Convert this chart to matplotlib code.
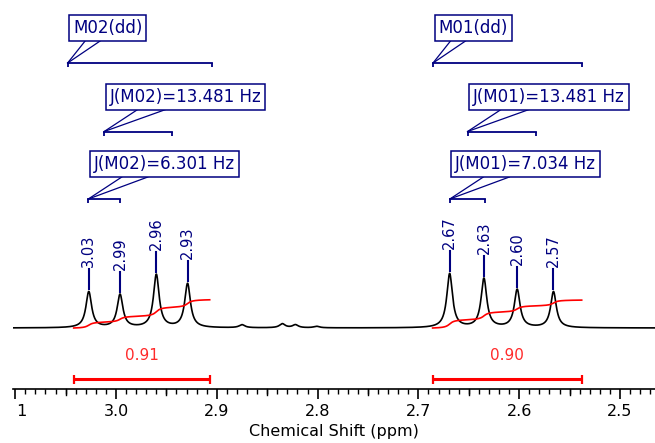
import numpy as np
import matplotlib
matplotlib.use('Agg')
import matplotlib.pyplot as plt
import matplotlib.transforms as mtransforms

# ---------------- data ----------------
peak_ppm_m02 = [3.027, 2.996, 2.960, 2.929]
peak_int_m02 = [36, 33, 53, 44]
peak_lbl_m02 = ['3.03', '2.99', '2.96', '2.93']

peak_ppm_m01 = [2.669, 2.635, 2.602, 2.566]
peak_int_m01 = [54, 49, 38, 36]
peak_lbl_m01 = ['2.67', '2.63', '2.60', '2.57']

minor_ppm = [2.875, 2.835, 2.822, 2.801]
minor_int = [3, 4, 3, 1.5]
line_fwhm_ppm = 0.0068

multiplet_names = ['M02(dd)', 'M01(dd)']
multiplet_range = [(3.048, 2.905), (2.6855, 2.538)]
multiplet_center = [2.978, 2.6175]
multiplet_J = [(13.481, 6.301), (13.481, 7.034)]
spec_freq_mhz = 200.0

integral_range = [(3.042, 2.907), (2.686, 2.538)]
integral_value = [0.91, 0.90]
integral_labels = ['0.91', '0.90']

x_ticks = [3.1, 3.0, 2.9, 2.8, 2.7, 2.6, 2.5]
x_ticklabels = ['3.1', '3.0', '2.9', '2.8', '2.7', '2.6', '2.5']
x_label = 'Chemical Shift (ppm)'

# ---------------- layout ----------------
W, H = 655, 443
ax_left_px, axis_y_px, base_px = 13, 389, 328
px_per_ppm = 1008.0
xmax = 3.0 + (116 - ax_left_px) / px_per_ppm
xmin = 3.0 - (W - 116) / px_per_ppm

NAVY = '#000080'
RED = '#ff0000'

fig = plt.figure(figsize=(W / 100, H / 100), dpi=100)
ax = fig.add_axes([ax_left_px / W, (H - axis_y_px) / H, (W - ax_left_px) / W, axis_y_px / H])
ax.set_xlim(xmax, xmin)
ax.set_ylim(-(axis_y_px - base_px), base_px)

# spectrum
x = np.linspace(xmax, xmin, 6000)
y = np.zeros_like(x)
hw = line_fwhm_ppm / 2
for p, h in zip(peak_ppm_m02 + peak_ppm_m01 + minor_ppm, peak_int_m02 + peak_int_m01 + minor_int):
    y += h / (1 + ((x - p) / hw) ** 2)
ax.plot(x, y, color='black', lw=1.2, zorder=3)

# integral curves + bars
for (a, b), val, lab in zip(integral_range, integral_value, integral_labels):
    m = (x <= a) & (x >= b)
    xi, yi = x[m], y[m]
    cum = np.concatenate([[0], np.cumsum((yi[1:] + yi[:-1]) / 2)])
    cum = cum / cum[-1] * val * 31
    ax.plot(xi, cum, color=RED, lw=1.2, zorder=4)
    ax.plot([a, b], [-51, -51], color=RED, lw=2.2, solid_capstyle='butt')
    ax.vlines([a, b], -55.5, -46.5, color=RED, lw=1.6)
    ax.text((a + b) / 2, -27, lab, color='#ff2a2a', ha='center', va='center', fontsize=11)

# peak labels
def spec_at(p):
    return np.interp(p, x[::-1], y[::-1])

for ppms, lbls in [(peak_ppm_m02, peak_lbl_m02), (peak_ppm_m01, peak_lbl_m01)]:
    for p, lb in zip(ppms, lbls):
        top = spec_at(p)
        ax.plot([p, p], [top + 2, top + 22], color=NAVY, lw=1.5)
        ax.text(p, top + 24, lb, rotation=90, ha='center', va='bottom', color=NAVY, fontsize=10.5)

# multiplet annotations
levels = [265, 196.5, 129]
box_pad_px = 4.0
fs_box = 12
pad_frac = box_pad_px / (fs_box * 100 / 72)

def bracket(xl, xr, yl):
    ax.plot([xl, xr], [yl, yl], color=NAVY, lw=1.3)
    ax.vlines([xl, xr], yl - 4, yl, color=NAVY, lw=1.3)

def callout(xl, yl, text, a, b):
    bl = xl - 1.5 / px_per_ppm
    bb = yl + 22
    tx = bl - box_pad_px / px_per_ppm
    ax.text(tx, bb + box_pad_px, text, ha='left', va='bottom', color=NAVY, fontsize=fs_box,
            bbox=dict(boxstyle='square,pad=%.3f' % pad_frac, fc='white', ec=NAVY, lw=1.1), zorder=5)
    for off in (a, b):
        ax.plot([bl - off / px_per_ppm, xl], [bb, yl], color=NAVY, lw=0.9, zorder=4)

for name, (r0, r1), c, (J1, J2) in zip(multiplet_names, multiplet_range, multiplet_center, multiplet_J):
    j1 = J1 / spec_freq_mhz
    j2 = J2 / spec_freq_mhz
    bracket(r0, r1, levels[0])
    callout(r0, levels[0], name, 16, 31)
    bracket(c + j1 / 2, c - j1 / 2, levels[1])
    callout(c + j1 / 2, levels[1], 'J(%s)=%.3f Hz' % (name[:3], J1), 32, 60)
    l1 = c + j1 / 2 + j2 / 2
    bracket(l1, l1 - j2, levels[2])
    callout(l1, levels[2], 'J(%s)=%.3f Hz' % (name[:3], J2), 32, 58)

# axes styling
for s in ['top', 'left', 'right']:
    ax.spines[s].set_visible(False)
ax.spines['bottom'].set_linewidth(1.2)
ax.set_yticks([])
ax.set_xticks(x_ticks)
ax.set_xticklabels(x_ticklabels, fontsize=11.5)
ax.set_xticks(np.arange(2.47, 3.101, 0.01), minor=True)
ax.tick_params(axis='x', which='major', length=7.5, width=1.2, direction='out', pad=3)
ax.tick_params(axis='x', which='minor', length=3.5, width=1.0, direction='out')
for v in np.arange(2.55, 3.1, 0.1):
    ax.plot([v, v], [-61, -66.5], color='black', lw=1.0, clip_on=False)
ax.set_xlabel(x_label, fontsize=11.5, labelpad=4)
clipbox = mtransforms.Bbox.from_extents(17, 0, W, H)
for t in ax.xaxis.get_major_ticks():
    t.label1.set_clip_on(True)
    t.label1.set_clip_box(clipbox)

fig.savefig('out.png', dpi=100)
